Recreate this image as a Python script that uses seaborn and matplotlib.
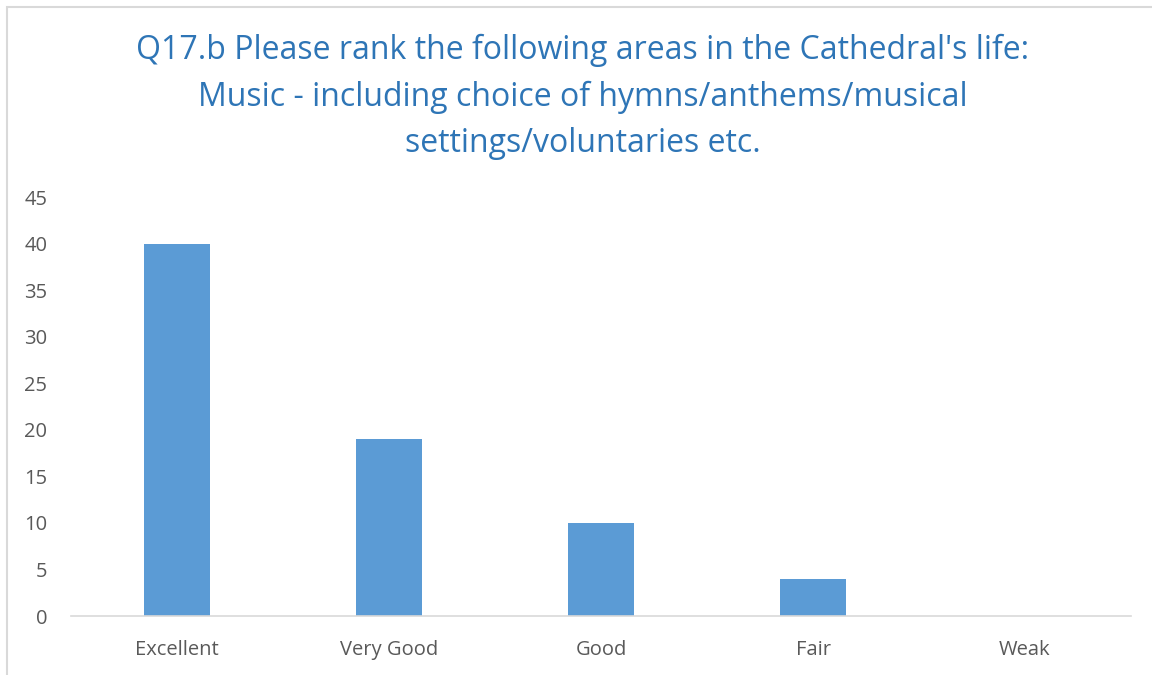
import matplotlib
matplotlib.use("Agg")
import matplotlib.pyplot as plt
import seaborn as sns
import pandas as pd
from matplotlib.patches import Rectangle

# dados
categorias = ["Excellent", "Very Good", "Good", "Fair", "Weak"]
respostas = [40, 19, 10, 4, 0]
y_ticks = [0, 5, 10, 15, 20, 25, 30, 35, 40, 45]
titulo = ("Q17.b Please rank the following areas in the Cathedral's life:\n"
          "Music - including choice of hymns/anthems/musical\n"
          "settings/voluntaries etc.")

df = pd.DataFrame({"categoria": categorias, "respostas": respostas})

sns.set_style("white")
plt.rcParams["font.family"] = ["Open Sans", "DejaVu Sans"]

fig = plt.figure(figsize=(11.52, 6.75), dpi=100)
ax = fig.add_axes([71 / 1152, 1 - 616 / 675, 1060 / 1152, (616 - 197) / 675])

sns.barplot(data=df, x="categoria", y="respostas", color="#5B9BD5",
            width=0.31, saturation=1, linewidth=0, ax=ax)

ax.set_ylim(0, 45)
ax.set_xlim(-0.5, len(categorias) - 0.5)
ax.set_yticks(y_ticks)
ax.set_xlabel("")
ax.set_ylabel("")
for s in ["top", "right", "left"]:
    ax.spines[s].set_visible(False)
ax.spines["bottom"].set_color("#D9D9D9")
ax.spines["bottom"].set_linewidth(1.2)
ax.tick_params(axis="both", length=0, labelsize=14.5, colors="#595959")
ax.tick_params(axis="y", pad=17)
ax.tick_params(axis="x", pad=17)

fig.text(583 / 1152, 1 - 97 / 675, titulo, ha="center", va="center",
         fontsize=23, color="#2E75B6", linespacing=1.52)

# moldura do gráfico
fig.patches.append(Rectangle((7 / 1152, -0.1), 1.2, 1 - 7 / 675 + 0.1,
                             transform=fig.transFigure, fill=False,
                             edgecolor="#D9D9D9", linewidth=1.5))

fig.savefig("out.png", dpi=100)
